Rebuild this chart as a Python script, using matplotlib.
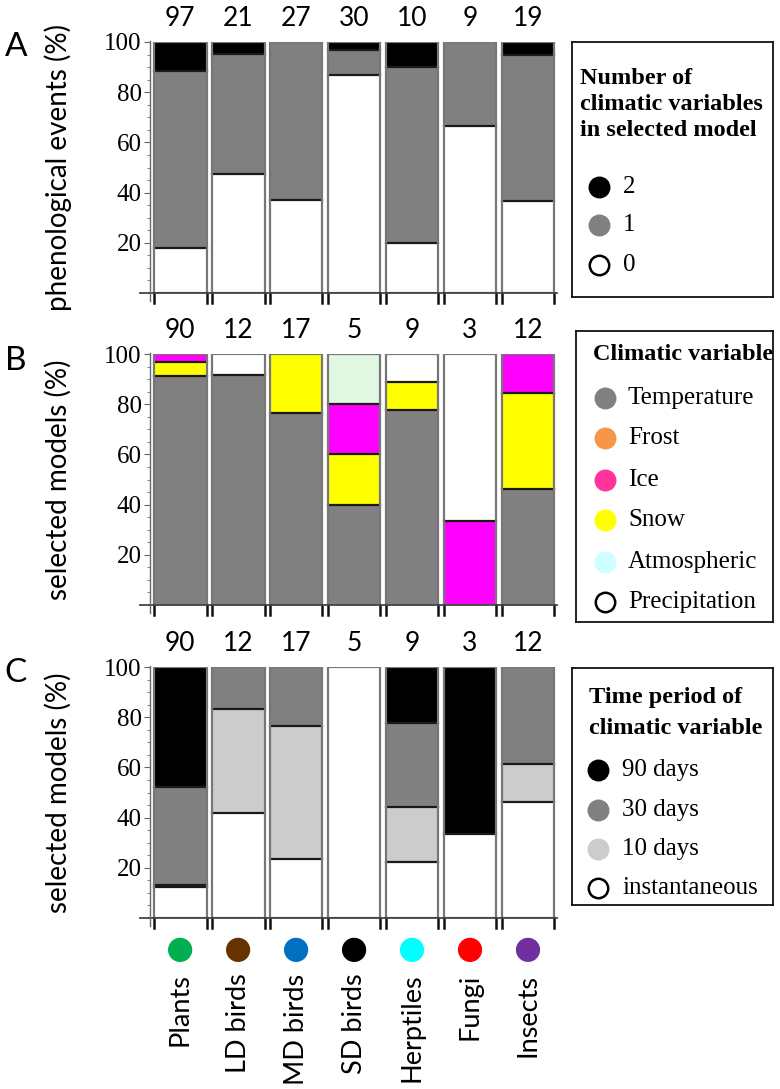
import matplotlib
matplotlib.use("Agg")
import matplotlib.pyplot as plt
from matplotlib.ticker import MultipleLocator
import numpy as np

SANS = ["Lato", "DejaVu Sans"]
SERIF = ["Liberation Serif", "DejaVu Serif"]

groups = ["Plants", "LD birds", "MD birds", "SD birds", "Herptiles", "Fungi", "Insects"]
group_colors = ["#00b050", "#663300", "#0070c0", "#000000", "#00ffff", "#ff0000", "#7030a0"]

# panel A: number of climatic variables in selected model (% of phenological events)
n_events = [97, 21, 27, 30, 10, 9, 19]
nvar_0 = [17.9, 47.6, 37.0, 86.7, 20.0, 66.7, 36.8]
nvar_1 = [70.5, 47.6, 63.0, 10.0, 70.0, 33.3, 57.9]
nvar_2 = [11.6, 4.8, 0.0, 3.3, 10.0, 0.0, 5.3]

# panel B: climatic variable (% of selected models)
n_models = [90, 12, 17, 5, 9, 3, 12]
temperature = [91.1, 91.7, 76.5, 40.0, 77.8, 0.0, 46.2]
frost = [0.0, 0.0, 0.0, 0.0, 0.0, 0.0, 0.0]
snow = [5.6, 0.0, 23.5, 20.0, 11.1, 0.0, 38.4]
ice = [3.3, 0.0, 0.0, 20.0, 0.0, 33.3, 15.4]
atmospheric = [0.0, 0.0, 0.0, 20.0, 0.0, 0.0, 0.0]
precipitation = [0.0, 8.3, 0.0, 0.0, 11.1, 66.7, 0.0]

# panel C: time period of climatic variable (% of selected models)
instantaneous = [12.2, 41.7, 23.5, 100.0, 22.2, 33.3, 46.2]
days_10 = [1.1, 41.6, 53.0, 0.0, 22.2, 0.0, 15.3]
days_30 = [38.9, 16.7, 23.5, 0.0, 33.3, 0.0, 38.5]
days_90 = [47.8, 0.0, 0.0, 0.0, 22.3, 66.7, 0.0]

W, H = 780, 1089
fig = plt.figure(figsize=(W / 100, H / 100), dpi=100)


def px_axes(left, top, right, bottom):
    return fig.add_axes([left / W, 1 - bottom / H, (right - left) / W, (bottom - top) / H])


def stacked_panel(ax, segments, counts, ylabel):
    x = np.arange(len(groups))
    width = 0.91
    bottom = np.zeros(len(groups))
    for values, color in segments:
        values = np.asarray(values)
        ax.bar(x, values, bottom=bottom, width=width, color=color, edgecolor="none", zorder=1)
        bottom = bottom + values
        for xi, top, v in zip(x, bottom, values):
            if v > 0 and 0 < top < 99.9:
                ax.plot([xi - width / 2, xi + width / 2], [top, top], color="#1a1a1a", lw=1.6, zorder=3)
    ax.bar(x, 100, width=width, fill=False, edgecolor="#777777", lw=1.6, zorder=4)
    # bar edge ticks below axis
    for xi in x:
        for e in (xi - width / 2, xi + width / 2):
            ax.plot([e, e], [0, -4], color="#111111", lw=1.8, clip_on=False, zorder=5)
    xl, xr = -0.52, 6.5
    ax.set_xlim(xl, xr)
    ax.set_ylim(0, 100)
    ax.plot([xl - 0.17, xr], [0, 0], color="#444444", lw=1.3, clip_on=False, zorder=5)
    ax.plot([xl, xl], [-3, 100.5], color="#666666", lw=1.0, clip_on=False, zorder=5)
    for s in ax.spines.values():
        s.set_visible(False)
    ax.set_yticks([20, 40, 60, 80, 100])
    ax.yaxis.set_minor_locator(MultipleLocator(5))
    ax.tick_params(axis="y", which="major", length=4, width=0.8, color="#666666", pad=2,
                   labelsize=18, labelfontfamily=SERIF)
    ax.tick_params(axis="y", which="minor", length=2.5, width=0.6, color="#666666")
    ax.set_xticks(x)
    ax.tick_params(axis="x", length=0)
    ax.set_xticklabels([])
    ax.set_ylabel(ylabel, family=SANS, fontsize=20)
    ax.yaxis.set_label_coords(-78 / 407, 0.5)
    for xi, n in zip(x, counts):
        ax.annotate(str(n), (xi, 100), xytext=(0, 17), textcoords="offset points",
                    ha="center", va="center", family=SANS, fontsize=19)


def legend_box(left, top, right, bottom, title_lines, title_x, title_ys, items, mx, tx):
    lax = px_axes(left, top, right, bottom)
    lax.set_xlim(left, right)
    lax.set_ylim(bottom, top)
    lax.set_xticks([])
    lax.set_yticks([])
    for s in lax.spines.values():
        s.set_linewidth(1.3)
        s.set_color("#111111")
    for line, y in zip(title_lines, title_ys):
        lax.text(title_x, y, line, ha="left", va="center", family=SERIF,
                 fontweight="bold", fontsize=17.5)
    for (label, face, y) in items:
        edge = "#000000" if face == "white" else face
        lax.plot([mx], [y], marker="o", ms=14, mfc=face, mec=edge, mew=1.8)
        lax.text(tx, y, label, ha="left", va="center", family=SERIF, fontsize=18)


# panel A
axA = px_axes(150, 42, 557, 293)
stacked_panel(axA, [(nvar_0, "white"), (nvar_1, "#808080"), (nvar_2, "black")],
              n_events, "phenological events (%)")
legend_box(572, 42, 773, 297, ["Number of", "climatic variables", "in selected model"],
           580, [78, 105, 131],
           [("2", "black", 187), ("1", "#808080", 225), ("0", "white", 265)], 599, 623)

# panel B
axB = px_axes(150, 354, 557, 605)
stacked_panel(axB, [(temperature, "#808080"), (frost, "#f79646"), (snow, "#ffff00"),
                    (ice, "#ff00ff"), (atmospheric, "#e0f8e2"), (precipitation, "white")],
              n_models, "selected models (%)")
legend_box(576, 331, 773, 622, ["Climatic variable"], 593, [355],
           [("Temperature", "#808080", 398), ("Frost", "#f79646", 438), ("Ice", "#ff3399", 480),
            ("Snow", "#ffff00", 520), ("Atmospheric", "#ccffff", 562),
            ("Precipitation", "white", 602)], 605, 628)

# panel C
axC = px_axes(150, 667, 557, 918)
stacked_panel(axC, [(instantaneous, "white"), (days_10, "#cccccc"), (days_30, "#808080"),
                    (days_90, "black")],
              n_models, "selected models (%)")
legend_box(572, 668, 773, 905, ["Time period of", "climatic variable"], 589, [697, 728],
           [("90 days", "black", 770), ("30 days", "#808080", 810), ("10 days", "#cccccc", 849),
            ("instantaneous", "white", 888)], 598, 622)

xs = np.arange(len(groups))
axC.scatter(xs, np.full(len(groups), -12.7), s=270, c=group_colors, clip_on=False, zorder=6)
axC.set_xticklabels(groups, rotation=90, family=SANS, fontsize=19.5)
axC.tick_params(axis="x", pad=40)

for letter, y in [("A", 47), ("B", 361), ("C", 673)]:
    fig.text(16 / W, 1 - y / H, letter, ha="center", va="center", family=SANS, fontsize=24)

fig.savefig("out.png", dpi=100)
